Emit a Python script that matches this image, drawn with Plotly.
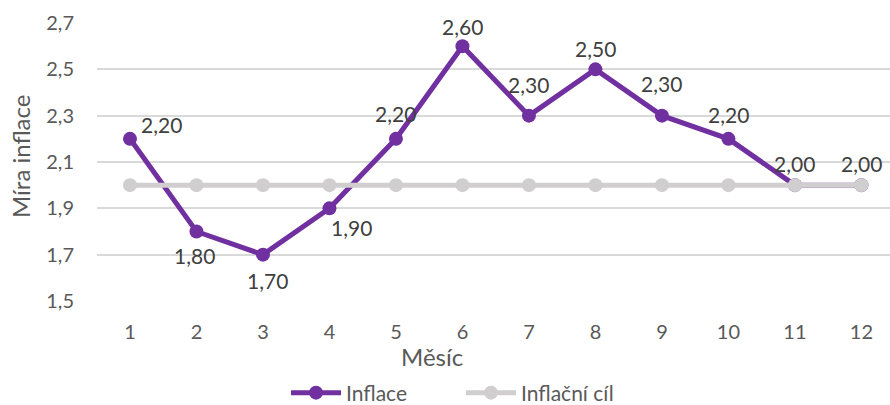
import plotly.graph_objects as go

months = [1, 2, 3, 4, 5, 6, 7, 8, 9, 10, 11, 12]
inflace = [2.2, 1.8, 1.7, 1.9, 2.2, 2.6, 2.3, 2.5, 2.3, 2.2, 2.0, 2.0]
cil = [2.0] * 12
y_ticks = [1.5, 1.7, 1.9, 2.1, 2.3, 2.5, 2.7]

# pixel offsets (right, down) of each data label from its marker
label_dx = [32, -2, 5, 22, 0, 0, 0, 0, 0, 0, 0, 0]
label_dy = [-14, 24, 26, 19, -25, -20, -31, -21, -32, -24, -22, -22]

FONT = "Lato, Carlito, Calibri, sans-serif"
TXT = "#595959"
LBL = "#404040"
PURPLE = "#7030A0"
GRAY = "#D0CECE"

fig = go.Figure()
fig.add_trace(go.Scatter(
    x=months, y=inflace, name="Inflace", mode="lines+markers",
    line=dict(color=PURPLE, width=5), marker=dict(color=PURPLE, size=14),
    cliponaxis=False,
))
fig.add_trace(go.Scatter(
    x=months, y=cil, name="Inflační cíl", mode="lines+markers",
    line=dict(color=GRAY, width=5), marker=dict(color=GRAY, size=14),
    cliponaxis=False,
))

annotations = [
    dict(x=m, y=v, xref="x", yref="y", text=f"{v:.2f}".replace(".", ","),
         showarrow=False, xshift=dx, yshift=-dy,
         xanchor="center", yanchor="middle",
         font=dict(family=FONT, size=21, color=LBL))
    for m, v, dx, dy in zip(months, inflace, label_dx, label_dy)
]
annotations += [
    dict(text="Měsíc", xref="paper", yref="paper", x=(432 - 97) / 793,
         y=(301 - 356) / 278, xanchor="center", yanchor="middle",
         showarrow=False, font=dict(size=24, color=TXT)),
    dict(text="Míra inflace", xref="paper", yref="paper",
         x=(20 - 97) / 793, y=(301 - 157) / 278, textangle=-90,
         xanchor="center", yanchor="middle", showarrow=False,
         font=dict(size=24, color=TXT)),
]

fig.update_layout(
    width=890, height=405,
    margin=dict(l=97, r=0, t=23, b=104, autoexpand=False),
    paper_bgcolor="white", plot_bgcolor="white",
    font=dict(family=FONT, size=20, color=TXT),
    showlegend=True,
    legend=dict(orientation="h", xref="container", yref="paper",
                x=0.518, xanchor="center", y=(301 - 393) / 278,
                yanchor="middle", font=dict(size=21, color=TXT),
                itemwidth=50, entrywidth=110, entrywidthmode="pixels"),
    xaxis=dict(range=[0.504, 12.43], tickvals=months,
               ticktext=[str(m) for m in months], tickangle=0,
               showgrid=False, zeroline=False, showline=False,
               ticks="", ticklabelstandoff=17,
               tickfont=dict(size=20, color=TXT)),
    yaxis=dict(range=[1.5, 2.7], tickvals=y_ticks,
               ticktext=[f"{v:.1f}".replace(".", ",") for v in y_ticks],
               showgrid=True, gridcolor="#D9D9D9", gridwidth=1.5,
               zeroline=False, showline=False, ticks="",
               ticklabelstandoff=22,
               tickfont=dict(size=20, color=TXT)),
    annotations=annotations,
)

fig.write_html("out.html")
